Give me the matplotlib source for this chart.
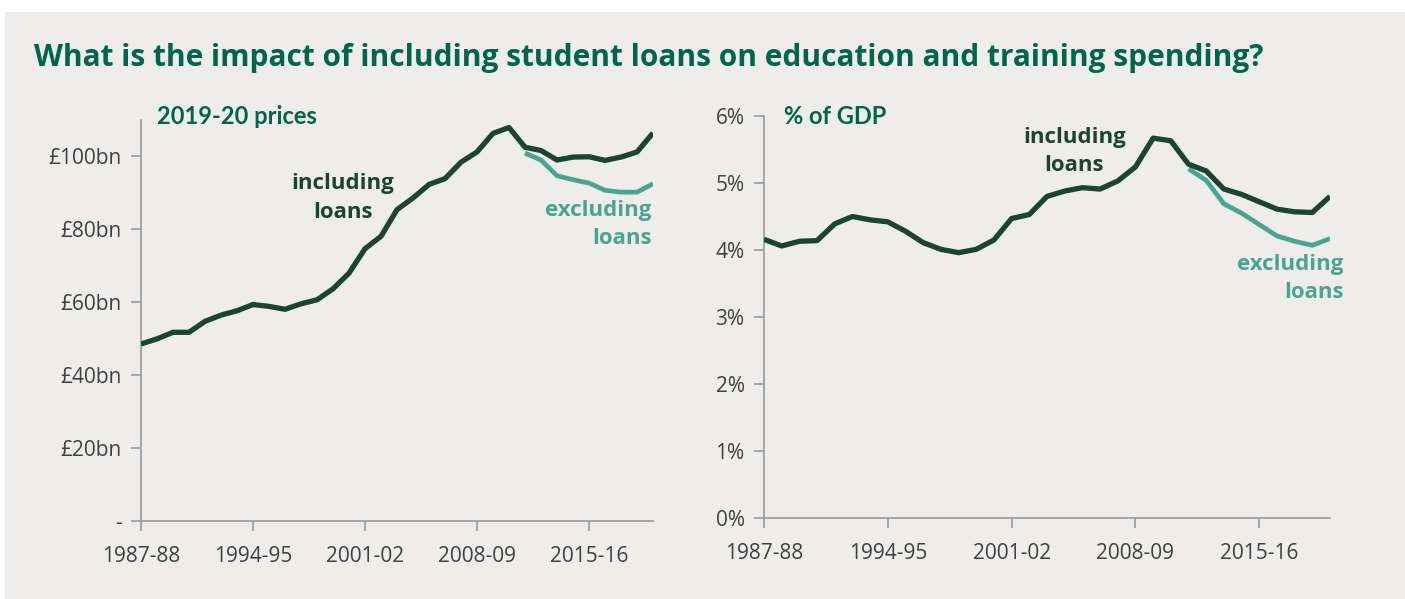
import matplotlib.pyplot as plt
import matplotlib.patches as patches
import numpy as np

# ----------------------------------------------------------
# Data
# ----------------------------------------------------------
years = ['1987-88', '1988-89', '1989-90', '1990-91', '1991-92', '1992-93', '1993-94',
         '1994-95', '1995-96', '1996-97', '1997-98', '1998-99', '1999-00', '2000-01',
         '2001-02', '2002-03', '2003-04', '2004-05', '2005-06', '2006-07', '2007-08',
         '2008-09', '2009-10', '2010-11', '2011-12', '2012-13', '2013-14', '2014-15',
         '2015-16', '2016-17', '2017-18', '2018-19', '2019-20']
tick_labels = ['1987-88', '1994-95', '2001-02', '2008-09', '2015-16']

# £bn, 2019-20 prices
real_incl = [48.5, 49.9, 51.7, 51.7, 54.7, 56.4, 57.6, 59.3, 58.8, 58.0, 59.5,
             60.6, 63.6, 67.9, 74.6, 78.0, 85.3, 88.5, 92.2, 93.8, 98.3, 101.1,
             106.2, 107.8, 102.4, 101.5, 98.9, 99.7, 99.8, 98.8, 99.7, 101.1, 106.3]
real_excl = [100.8, 98.9, 94.6, 93.5, 92.6, 90.6, 90.1, 90.1, 92.4]   # from 2011-12

# % of GDP
gdp_incl = [4.16, 4.06, 4.13, 4.14, 4.39, 4.50, 4.45, 4.42, 4.28, 4.11, 4.01,
            3.96, 4.01, 4.15, 4.47, 4.53, 4.80, 4.88, 4.93, 4.91, 5.03, 5.24,
            5.67, 5.63, 5.28, 5.18, 4.91, 4.83, 4.72, 4.61, 4.57, 4.56, 4.80]
gdp_excl = [5.21, 5.04, 4.69, 4.55, 4.38, 4.21, 4.13, 4.07, 4.17]

# ----------------------------------------------------------
# Style
# ----------------------------------------------------------
bg = '#eeedeb'
dark = '#1c4431'
teal = '#4aa48f'
title_green = '#00654a'
grey_txt = '#404040'
spine_col = '#9a9a9a'

plt.rcParams['font.family'] = ['Open Sans', 'DejaVu Sans']

fig = plt.figure(figsize=(14.05, 5.99), dpi=100)
fig.patch.set_facecolor('white')
fig.patches.append(patches.Rectangle((5 / 1405, 0), 1, 1 - 12 / 599,
                                     transform=fig.transFigure, facecolor=bg,
                                     edgecolor='none', zorder=-10))

x = np.arange(len(years))
x_excl = x[len(years) - len(real_excl):]
tick_pos = [years.index(t) for t in tick_labels]


def style_axis(ax):
    ax.set_facecolor('none')
    for s in ['top', 'right']:
        ax.spines[s].set_visible(False)
    for s in ['left', 'bottom']:
        ax.spines[s].set_color(spine_col)
        ax.spines[s].set_linewidth(1.2)
    ax.tick_params(axis='both', colors=spine_col, labelcolor=grey_txt,
                   labelsize=15, length=7, width=1.2)
    ax.tick_params(axis='x', pad=11)
    ax.tick_params(axis='y', pad=7)
    ax.set_xlim(0, len(years) - 1)
    ax.set_xticks(tick_pos)
    ax.set_xticklabels(tick_labels)


# ---------------- left panel: real terms ----------------
ax1 = fig.add_axes([141 / 1405, 78 / 599, 512 / 1405, 401.5 / 599])
style_axis(ax1)
ax1.plot(x, real_incl, color=dark, lw=3.8, solid_capstyle='butt', zorder=3)
ax1.plot(x_excl, real_excl, color=teal, lw=3.4, solid_capstyle='butt', zorder=2)
ax1.set_ylim(0, 110)
ax1.set_yticks([0, 20, 40, 60, 80, 100])
ax1.set_yticklabels(['-', '£20bn', '£40bn', '£60bn', '£80bn', '£100bn'])

ax1.text(12.6, 88.5, 'including\nloans', color=dark, fontsize=16, fontweight='bold',
         ha='center', va='center', linespacing=1.45)
ax1.text(31.9, 81.2, 'excluding\nloans', color=teal, fontsize=16, fontweight='bold',
         ha='right', va='center', linespacing=1.45)

# ---------------- right panel: % of GDP ----------------
ax2 = fig.add_axes([764 / 1405, 81 / 599, 566 / 1405, 402 / 599])
style_axis(ax2)
ax2.plot(x, gdp_incl, color=dark, lw=3.8, solid_capstyle='butt', zorder=3)
ax2.plot(x_excl, gdp_excl, color=teal, lw=3.4, solid_capstyle='butt', zorder=2)
ax2.set_ylim(0, 6)
ax2.set_yticks(range(7))
ax2.set_yticklabels([f'{v}%' for v in range(7)])

ax2.text(17.55, 5.47, 'including\nloans', color=dark, fontsize=16, fontweight='bold',
         ha='center', va='center', linespacing=1.45)
ax2.text(32.75, 3.57, 'excluding\nloans', color=teal, fontsize=16, fontweight='bold',
         ha='right', va='center', linespacing=1.45)

# ---------------- titles ----------------
fig.text(34 / 1405, 1 - 66 / 599,
         'What is the impact of including student loans on education and training spending?',
         color=title_green, fontsize=21.5, fontweight='bold', ha='left', va='baseline',
         family=['Open Sans', 'DejaVu Sans'])
fig.text(157 / 1405, 1 - 116 / 599, '2019-20 prices', color=title_green, fontsize=17,
         fontweight='bold', ha='left', va='center', family=['Lato', 'DejaVu Sans'])
fig.text(784 / 1405, 1 - 116 / 599, '% of GDP', color=title_green, fontsize=17,
         fontweight='bold', ha='left', va='center', family=['Lato', 'DejaVu Sans'])

fig.savefig('out.png', dpi=100, facecolor=fig.get_facecolor())
